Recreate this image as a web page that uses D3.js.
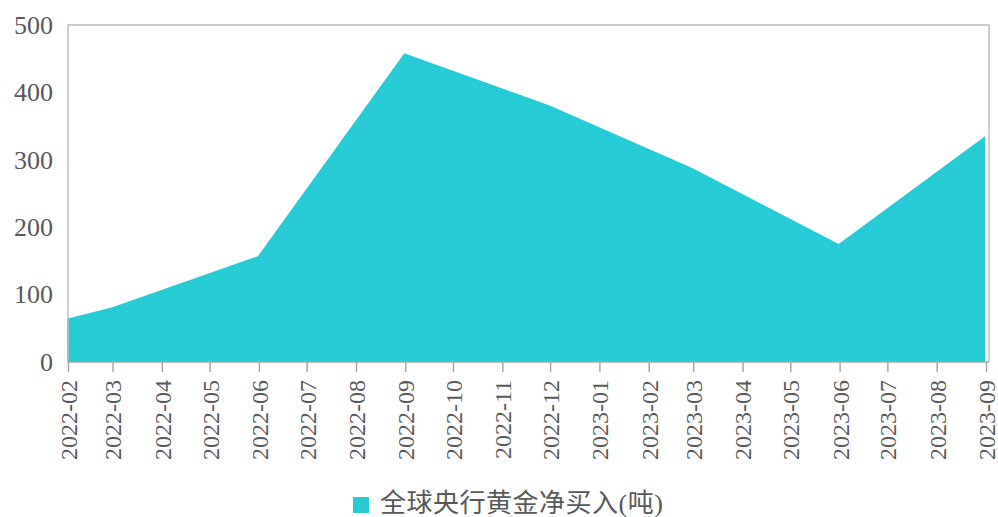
<!DOCTYPE html>
<meta charset="utf-8">
<style>
  body { margin: 0; background: #fff; }
  .frame { fill: none; stroke: #bfbfbf; stroke-width: 1.5; }
  .axis path, .axis line { stroke: #a6a6a6; stroke-width: 1.5; }
</style>
<svg width="998" height="517"></svg>
<script src="https://cdnjs.cloudflare.com/ajax/libs/d3/7.8.5/d3.min.js"></script>
<script>

// monthly ticks along the axis
var months = ["2022-02", "2022-03", "2022-04", "2022-05", "2022-06", "2022-07", "2022-08",
              "2022-09", "2022-10", "2022-11", "2022-12", "2023-01", "2023-02", "2023-03",
              "2023-04", "2023-05", "2023-06", "2023-07", "2023-08", "2023-09"];

// points (tonnes)
var pointMonths = ["2022-02", "2022-03", "2022-06", "2022-09", "2022-12", "2023-03", "2023-06", "2023-09"];
var pointValues = [64, 81, 157, 458, 381, 288, 175, 335];

var yTicks = [0, 100, 200, 300, 400, 500];
var seriesName = "全球央行黄金净买入(吨)";

var FONT = "'Liberation Serif', 'Noto Sans CJK SC', serif";

var svg = d3.select("svg"),
    margin = {top: 25, right: 9, bottom: 155, left: 68},
    width = +svg.attr("width") - margin.left - margin.right,
    height = +svg.attr("height") - margin.top - margin.bottom;

var parse = d3.timeParse("%Y-%m");
var data = pointMonths.map(function(m, i) { return {date: parse(m), value: pointValues[i]}; });

var x = d3.scaleTime()
    .domain([parse(months[0]), parse(months[months.length - 1])])
    .range([0, width - 3]);
var y = d3.scaleLinear().domain([0, 500]).range([height, 0]);

var g = svg.append("g").attr("transform", "translate(" + margin.left + "," + margin.top + ")");

var area = d3.area()
    .x(function(d) { return x(d.date); })
    .y0(y(0))
    .y1(function(d) { return y(d.value); });

g.append("path")
    .datum(data)
    .attr("fill", "#26CBD5")
    .attr("d", area)
    .attr("transform", "translate(-1,0)");

// frame: left, top, right
g.append("path")
    .attr("class", "frame")
    .attr("d", "M0," + height + "V0H" + width + "V" + height);

var xAxis = g.append("g")
    .attr("class", "axis")
    .attr("transform", "translate(0," + height + ")")
    .call(d3.axisBottom(x)
      .tickValues(months.map(parse))
      .tickSize(10)
      .tickFormat(d3.timeFormat("%Y-%m")));

xAxis.select(".domain").remove();
xAxis.append("line").attr("x1", 0).attr("x2", width).attr("stroke", "#a6a6a6").attr("stroke-width", 1.5);

xAxis.selectAll("text")
    .style("font-family", FONT)
    .style("font-size", "24px")
    .style("fill", "#595959")
    .attr("transform", "rotate(-90)")
    .attr("text-anchor", "end")
    .attr("x", -18)
    .attr("y", 0)
    .attr("dy", "0.35em");

var yAxis = g.append("g")
    .call(d3.axisLeft(y).tickValues(yTicks).tickSize(0).tickPadding(15));
yAxis.select(".domain").remove();
yAxis.selectAll("text")
    .style("font-family", FONT)
    .style("font-size", "26px")
    .style("fill", "#595959");

// legend
var legend = svg.append("g").attr("transform", "translate(353,497)");
legend.append("rect").attr("width", 16).attr("height", 16).attr("fill", "#26CBD5");
legend.append("text")
    .attr("x", 27)
    .attr("y", 6)
    .attr("dy", "0.36em")
    .style("font-family", FONT)
    .style("font-size", "26px")
    .style("letter-spacing", "0.5px")
    .style("fill", "#595959")
    .text(seriesName);

</script>
